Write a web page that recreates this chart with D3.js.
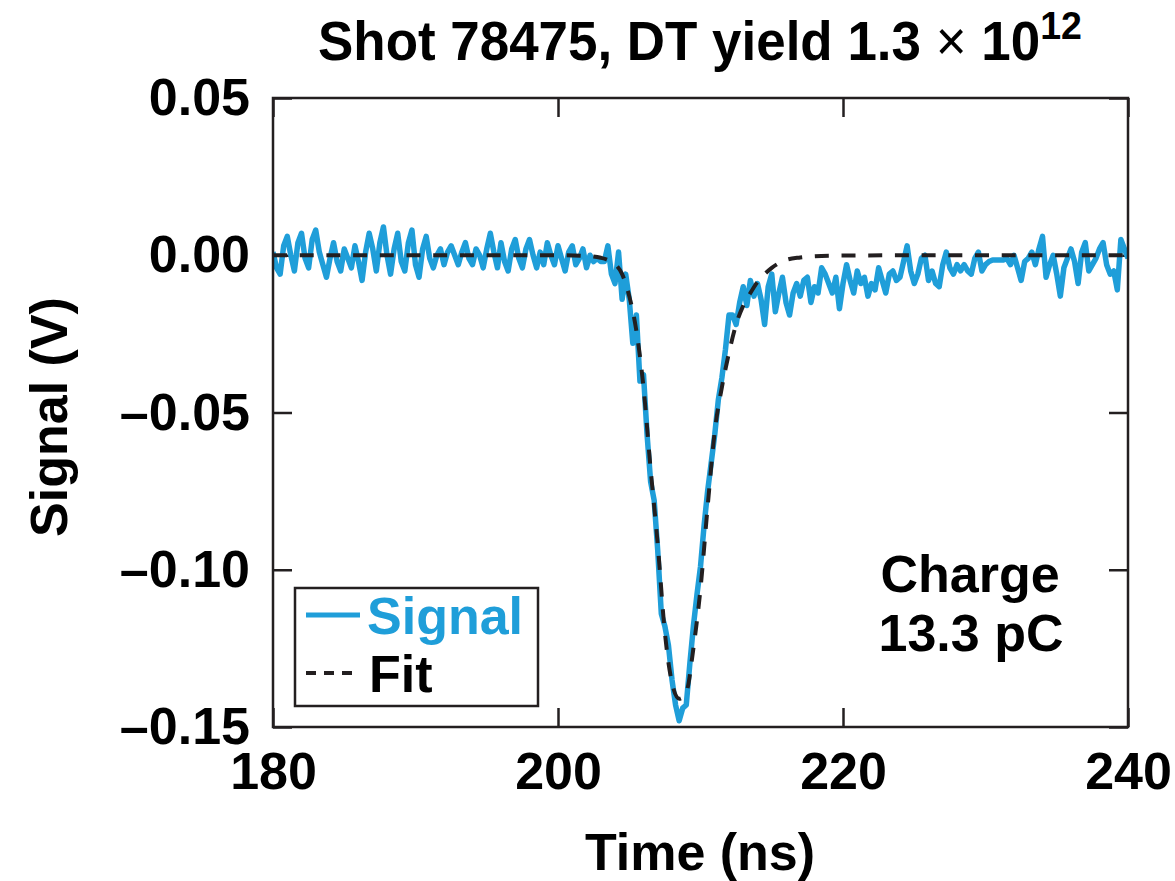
<!DOCTYPE html>
<html>
<head>
<meta charset="utf-8">
<script src="https://cdn.jsdelivr.net/npm/d3@7"></script>
<style>
  html, body { margin: 0; padding: 0; background: #fff; }
  svg { display: block; }
  text { font-family: "Liberation Sans", Arial, Helvetica, sans-serif; font-weight: bold; fill: #000; }
</style>
</head>
<body>
<svg id="chart" width="1175" height="881"></svg>
<script>
// ---------- data ----------
const titleMain = "Shot 78475, DT yield 1.3 ";
const titleTimes = "\u00d7";
const titleTen = " 10";
const titleExp = "12";
const xLabel = "Time (ns)";
const yLabel = "Signal (V)";
const seriesNames = ["Signal", "Fit"];
const noteLines = ["Charge", "13.3 pC"];

const xTickValues = [180, 200, 220, 240];
const xTickLabels = ["180", "200", "220", "240"];
const yTickValues = [50, 0, -50, -100, -150];           // mV
const yTickLabels = ["0.05", "0.00", "\u20130.05", "\u20130.10", "\u20130.15"];

// signal sampled every 0.25 ns from 180 ns, values in mV
const signalStart = 180;
const signalStep = 0.25;
const signalValues = [
  // 180.00 - 190.00
  1, -4, -6, 3, 6, 0, -5, 4, 7, -1, -4, 5, 8, 1, -3, -7, -1, 4, -2, -5,
  2, -1, -4, 3, -2, -8, 1, 7, 2, -5, 4, 9, 0, -6, 2, 7, -2, -5, 4, 8, -3,
  // 190.25 - 203.00
  -7, 2, 6, -1, -4, 0, 2, -3, 1, 3, 0, -3, 1, 4, -1, -3, 2, 0, -4, 2,
  7, 1, -4, 4, -2, -5, 2, 5, -1, -4, 2, 5, 0, -4, 1, -3, 4, 0, -3, 3,
  -1, -5, 1, 3, -3, -1, 2, -4, 0, -2, -1, -2,
  // 203.25 - 216.00
  -2, 3, -6, -9, 1, -14, -6, -14, -28, -19,
  -40, -38, -57, -72, -78, -94, -114, -118, -124, -135,
  -143, -148, -144, -143, -130, -118, -108, -99, -86, -75,
  -66, -57, -46, -39, -30, -19, -19, -22, -15, -10,
  -16, -8, -13, -9, -14, -22, -10, -6, -18, -12, -7, -15,
  // 216.25 - 240.00
  -19, -12, -9, -13,  -8, -7, -15, -10,  -12, -4, -6, -9,  -12, -7, -17, -9,
  -3, -8, -12, -5,  -9, -7, -13, -9,  -11, -4, -8, -12,  -6, -5, -8, -7,
  -2, 3, -5, -9,  -6, -1, 0, -8,  -5, -9, -10, -3,  1, -4, -6, -3,
  -5, -3, -5, -6,  -1, 1, -5, -3,  -2, -1.5, -1.5, -1.5,  -1.5, -1, -3, 0,
  -4, -8, -2, -1,  1, -3, 2, 6,  -7, -3, 0, -6,  -13, -4, -1, 2,
  -2, -9, 1, 4,  -5, -3, -1, 2,  4, -3, -6, -5,  -11, 5, 2, -1
];

// fitted curve, values in mV
const fitTimes = [180, 200, 202, 203, 203.5, 204, 204.5, 205, 205.5, 206, 206.5, 207, 207.5, 208,
  208.5, 209, 209.5, 210, 210.5, 211, 211.5, 212, 212.5, 213, 213.5, 214, 214.5, 215, 216, 217,
  218, 220, 225, 240];
const fitValues = [0, 0, -0.2, -0.8, -1.5, -2.8, -6, -13, -24, -42, -68, -92, -120, -136,
  -141, -139, -125, -106, -80, -56, -42, -31, -22, -16, -12, -8.5, -6, -4, -1.5, -0.7,
  -0.3, -0.1, 0, 0];

// ---------- drawing ----------
const svg = d3.select("#chart");
const plot = { left: 273, right: 1128, top: 98, bottom: 727 };

const x = d3.scaleLinear().domain([180, 240]).range([plot.left, plot.right]);
const y = d3.scaleLinear().domain([-150, 50]).range([plot.bottom, plot.top]);

const blue = "#1f9ed9";
const dark = "#231f20";

const signal = signalValues.map((v, i) => ({ t: signalStart + i * signalStep, v }));
const fit = fitTimes.map((t, i) => ({ t, v: fitValues[i] }));

svg.append("defs").append("clipPath").attr("id", "clip")
  .append("rect").attr("x", plot.left).attr("y", plot.top - 10)
  .attr("width", plot.right - plot.left).attr("height", plot.bottom - plot.top + 10);

const tickLen = 19;
const fs = 52;

const xAxisB = d3.axisBottom(x).tickValues(xTickValues)
  .tickFormat((d, i) => xTickLabels[i]).tickSize(-tickLen).tickPadding(25);
const gxb = svg.append("g").attr("transform", `translate(0,${plot.bottom})`).call(xAxisB);
gxb.selectAll("text").attr("font-size", fs);

const xAxisT = d3.axisTop(x).tickValues(xTickValues).tickFormat("").tickSize(-tickLen);
svg.append("g").attr("transform", `translate(0,${plot.top})`).call(xAxisT);

const yAxisL = d3.axisLeft(y).tickValues(yTickValues)
  .tickFormat((d, i) => yTickLabels[i]).tickSize(-tickLen).tickPadding(23);
const gyl = svg.append("g").attr("transform", `translate(${plot.left},0)`).call(yAxisL);
gyl.selectAll("text").attr("font-size", fs);

const yAxisR = d3.axisRight(y).tickValues(yTickValues).tickFormat("").tickSize(-tickLen);
svg.append("g").attr("transform", `translate(${plot.right},0)`).call(yAxisR);

svg.selectAll(".domain").remove();
svg.selectAll(".tick line").attr("stroke", dark).attr("stroke-width", 2.5);
svg.selectAll(".tick text")
  .attr("font-family", '"Liberation Sans", Arial, sans-serif')
  .attr("font-weight", "bold").attr("fill", "#000");

// data lines
const line = d3.line().x(d => x(d.t)).y(d => y(d.v));
svg.append("path").datum(signal)
  .attr("clip-path", "url(#clip)")
  .attr("d", line)
  .attr("fill", "none").attr("stroke", blue).attr("stroke-width", 5.5)
  .attr("stroke-linejoin", "round");

const fitLine = d3.line().x(d => x(d.t)).y(d => y(d.v)).curve(d3.curveMonotoneX);
svg.append("path").datum(fit)
  .attr("clip-path", "url(#clip)")
  .attr("d", fitLine)
  .attr("fill", "none").attr("stroke", dark).attr("stroke-width", 4)
  .attr("stroke-dasharray", "14,12.7");

// frame
svg.append("rect")
  .attr("x", plot.left).attr("y", plot.top)
  .attr("width", plot.right - plot.left).attr("height", plot.bottom - plot.top)
  .attr("fill", "none").attr("stroke", dark).attr("stroke-width", 2.5);

// legend
const lg = svg.append("g");
lg.append("rect").attr("x", 295).attr("y", 588).attr("width", 243).attr("height", 118)
  .attr("fill", "#fff").attr("stroke", dark).attr("stroke-width", 2.5);
lg.append("line").attr("x1", 306).attr("x2", 360).attr("y1", 615).attr("y2", 615)
  .attr("stroke", blue).attr("stroke-width", 5);
lg.append("text").attr("x", 367).attr("y", 634).attr("font-size", fs)
  .style("fill", blue).text(seriesNames[0]);
lg.append("line").attr("x1", 306).attr("x2", 360).attr("y1", 673).attr("y2", 673)
  .attr("stroke", dark).attr("stroke-width", 4).attr("stroke-dasharray", "10,8");
lg.append("text").attr("x", 369).attr("y", 692).attr("font-size", fs).text(seriesNames[1]);

// annotation
svg.append("text").attr("x", 970).attr("y", 592).attr("font-size", fs)
  .attr("text-anchor", "middle").text(noteLines[0]);
svg.append("text").attr("x", 971).attr("y", 651).attr("font-size", fs)
  .attr("text-anchor", "middle").text(noteLines[1]);

// axis titles
svg.append("text").attr("x", 700).attr("y", 870).attr("font-size", fs)
  .attr("text-anchor", "middle").text(xLabel);
svg.append("text").attr("transform", "translate(67,417) rotate(-90)")
  .attr("font-size", fs).attr("text-anchor", "middle").text(yLabel);

// title (condensed look)
const tt = svg.append("text").attr("x", 0).attr("y", 60).attr("font-size", 55)
  .style("font-family", '"Liberation Sans Narrow", "Liberation Sans", Arial, sans-serif');
tt.append("tspan").text(titleMain);
tt.append("tspan").style("font-weight", "normal").text(titleTimes);
tt.append("tspan").text(titleTen);
tt.append("tspan").attr("dy", -21).attr("font-size", 39).text(titleExp);
const bb = tt.node().getBBox();
const targetW = 764, targetL = 318;
const sx = targetW / bb.width;
tt.attr("transform", `translate(${targetL - bb.x * sx},0) scale(${sx},1)`);
</script>
</body>
</html>
